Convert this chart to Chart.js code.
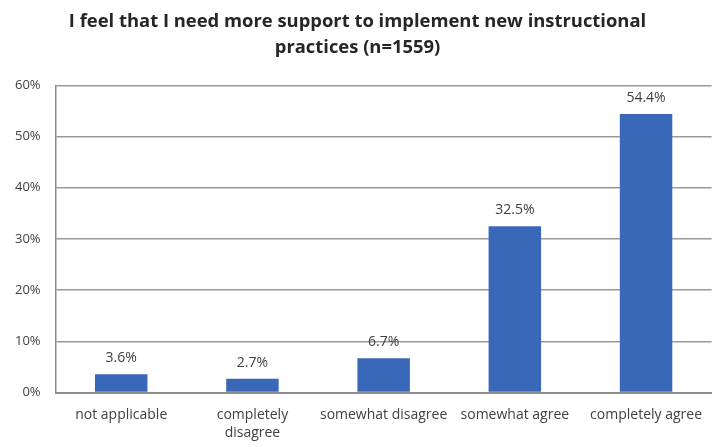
<!DOCTYPE html>
<html>
<head>
<meta charset="utf-8">
<script src="https://cdn.jsdelivr.net/npm/chart.js@4.4.1/dist/chart.umd.min.js"></script>
<style>
  html, body { margin: 0; padding: 0; background: #fff; }
  #wrap { width: 715px; height: 447px; }
</style>
</head>
<body>
<div id="wrap"><canvas id="supportChart" width="715" height="447"></canvas></div>
<script>
const categories = ['not applicable', ['completely', 'disagree'], 'somewhat disagree', 'somewhat agree', 'completely agree'];
const percentages = [3.6, 2.7, 6.7, 32.5, 54.4];
const yTicks = [0, 10, 20, 30, 40, 50, 60];
const chartTitle = ['I feel that I need more support to implement new instructional', 'practices (n=1559)'];

const FONT = "'Open Sans', 'Noto Sans', sans-serif";

// draws the value above each bar
const valueLabels = {
    id: 'valueLabels',
    afterDatasetsDraw(chart) {
        const ctx = chart.ctx;
        const meta = chart.getDatasetMeta(0);
        ctx.save();
        ctx.font = '14px ' + FONT;
        ctx.fillStyle = '#404040';
        ctx.textAlign = 'center';
        ctx.textBaseline = 'bottom';
        meta.data.forEach((bar, i) => {
            ctx.fillText(percentages[i].toFixed(1) + '%', bar.x, bar.y - 9);
        });
        ctx.restore();
    }
};

const ctx = document.getElementById('supportChart').getContext('2d');
const supportChart = new Chart(ctx, {
    type: 'bar',
    data: {
        labels: categories,
        datasets: [{
            label: 'Share of respondents',
            data: percentages,
            backgroundColor: '#3a68b9',
            categoryPercentage: 1.0,
            barPercentage: 0.4
        }]
    },
    options: {
        responsive: false,
        animation: false,
        layout: { padding: { left: 0, right: 0, top: 0, bottom: -8 } },
        plugins: {
            legend: { display: false },
            tooltip: { enabled: false },
            title: {
                display: true,
                text: chartTitle,
                color: '#262626',
                font: { family: FONT, size: 18.4, weight: 'bold', lineHeight: 1.45 },
                padding: { top: 8, bottom: 24 }
            }
        },
        scales: {
            x: {
                grid: { display: false, drawTicks: false },
                border: { color: '#8c8c8c', width: 2 },
                ticks: {
                    color: '#404040',
                    font: { family: FONT, size: 14, lineHeight: 1.3 },
                    maxRotation: 0,
                    autoSkip: false,
                    padding: 13
                }
            },
            y: {
                min: 0,
                max: 60,
                afterBuildTicks(axis) {
                    axis.ticks = yTicks.map(v => ({ value: v }));
                },
                grid: { color: '#9a9a9a', lineWidth: 1.5, drawTicks: false },
                border: { color: '#8c8c8c', width: 1.5 },
                ticks: {
                    color: '#404040',
                    font: { family: FONT, size: 13 },
                    padding: 15,
                    callback: v => v + '%'
                }
            }
        }
    },
    plugins: [valueLabels]
});
</script>
</body>
</html>
